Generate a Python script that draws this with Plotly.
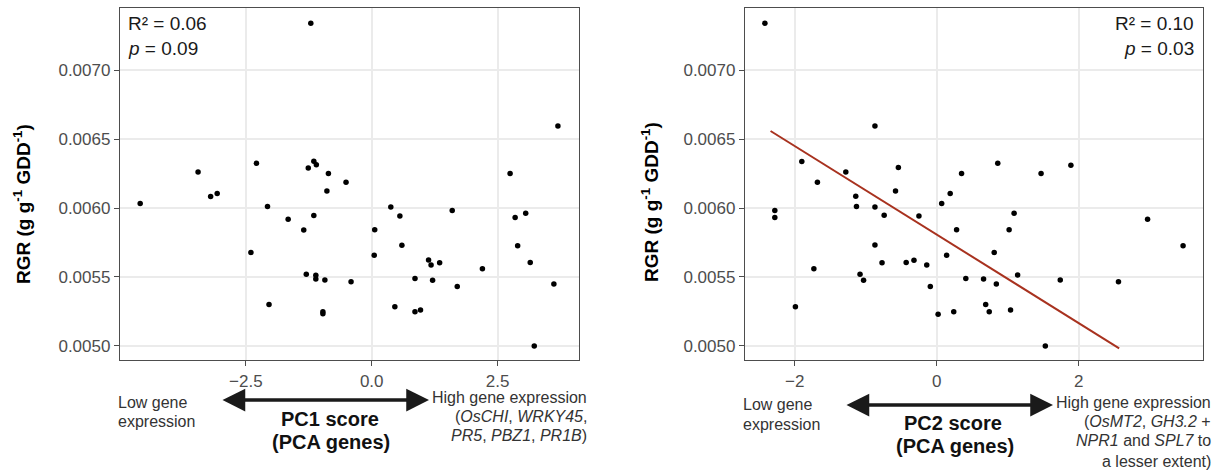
import plotly.graph_objects as go

# ---------------- data ----------------
pc1 = [-1.21, -4.60, -3.45, -3.20, -3.07, -2.29, -2.07, -2.40, -2.04, -1.66,
       -1.35, -1.26, -1.15, -1.10, -0.86, -0.89, -0.51, -1.15, -1.30, -1.11,
       -1.11, -0.93, -0.41, -0.97, -0.97, 0.38, 0.56, 0.06, 0.05, 0.46,
       0.60, 1.60, 1.13, 1.18, 1.35, 0.86, 1.21, 1.70, 2.20, 0.86,
       0.97, 3.70, 2.75, 2.85, 3.06, 2.90, 3.15, 3.62, 3.23]
rgr_pc1 = [0.007344, 0.006033, 0.006263, 0.006084, 0.006106, 0.006326, 0.006012, 0.005678, 0.005300, 0.005919,
           0.005840, 0.006292, 0.006340, 0.006314, 0.006251, 0.006125, 0.006188, 0.005946, 0.005520, 0.005511,
           0.005484, 0.005477, 0.005464, 0.005247, 0.005232, 0.006007, 0.005943, 0.005842, 0.005658, 0.005283,
           0.005729, 0.005983, 0.005622, 0.005586, 0.005602, 0.005489, 0.005475, 0.005431, 0.005559, 0.005247,
           0.005259, 0.006597, 0.006251, 0.005932, 0.005963, 0.005726, 0.005605, 0.005448, 0.004998]

pc2 = [-2.42, -2.28, -2.28, -1.99, -1.90, -1.68, -1.73, -1.28, -1.14, -1.13,
       -1.08, -1.03, -0.87, -0.87, -0.87, -0.74, -0.77, -0.54, -0.58, -0.43,
       -0.32, -0.25, -0.14, -0.09, 0.02, 0.07, 0.19, 0.14, 0.28, 0.24,
       0.35, 0.41, 0.66, 0.69, 0.74, 0.86, 1.47, 1.89, 1.09, 1.02,
       0.81, 0.84, 1.14, 1.74, 1.04, 1.53, 2.97, 3.47, 2.56]
rgr_pc2 = [0.007344, 0.005983, 0.005932, 0.005283, 0.006338, 0.006188, 0.005559, 0.006263, 0.006086, 0.006012,
           0.005520, 0.005475, 0.006597, 0.006007, 0.005731, 0.005948, 0.005602, 0.006295, 0.006125, 0.005605,
           0.005620, 0.005943, 0.005586, 0.005431, 0.005228, 0.006033, 0.006106, 0.005658, 0.005842, 0.005247,
           0.006251, 0.005489, 0.005484, 0.005300, 0.005247, 0.006326, 0.006251, 0.006311, 0.005963, 0.005842,
           0.005678, 0.005448, 0.005513, 0.005477, 0.005259, 0.004998, 0.005919, 0.005726, 0.005464]

# fitted line (PC2 panel)
fit_pc2 = [-2.34, 2.57]
fit_rgr = [0.006560, 0.004981]

pc1_ticks = [-2.5, 0.0, 2.5]
pc1_tick_labels = ["\u22122.5", "0.0", "2.5"]
pc2_ticks = [-2, 0, 2]
pc2_tick_labels = ["\u22122", "0", "2"]
rgr_ticks = [0.0050, 0.0055, 0.0060, 0.0065, 0.0070]
rgr_tick_labels = ["0.0050", "0.0055", "0.0060", "0.0065", "0.0070"]

stats_pc1 = ["R\u00b2 = 0.06", "<i>p</i> = 0.09"]
stats_pc2 = ["R\u00b2 = 0.10", "<i>p</i> = 0.03"]

# ---------------- layout helpers ----------------
W, H = 1223, 470
T, B = 8, 360          # plot area top/bottom in px
FONT = "Liberation Sans, Arial, sans-serif"


def px(x):
    return x / W


def py(y):
    return (B - y) / (B - T)


fig = go.Figure()

fig.add_trace(go.Scatter(x=pc1, y=rgr_pc1, mode="markers",
                         marker=dict(color="black", size=5.5),
                         xaxis="x", yaxis="y", showlegend=False))
fig.add_trace(go.Scatter(x=pc2, y=rgr_pc2, mode="markers",
                         marker=dict(color="black", size=5.5),
                         xaxis="x2", yaxis="y2", showlegend=False))
fig.add_trace(go.Scatter(x=fit_pc2, y=fit_rgr, mode="lines",
                         line=dict(color="#A8321F", width=2),
                         xaxis="x2", yaxis="y2", showlegend=False))

axis_common = dict(showgrid=True, gridcolor="#EBEBEB", gridwidth=1.5,
                   zeroline=False, showline=True, mirror=True,
                   linecolor="#4d4d4d", linewidth=1.3,
                   ticks="outside", ticklen=5, tickcolor="#4d4d4d", tickwidth=1.3,
                   tickfont=dict(family=FONT, size=17, color="#4D4D4D"),
                   tickmode="array")

fig.update_layout(
    width=W, height=H,
    margin=dict(l=0, r=0, t=T, b=H - B),
    paper_bgcolor="white", plot_bgcolor="white",
    font=dict(family=FONT),
    xaxis=dict(domain=[120 / W, 579 / W], range=[-5.001, 4.119],
               tickvals=pc1_ticks, ticktext=pc1_tick_labels, anchor="y", **axis_common),
    yaxis=dict(domain=[0, 1], range=[0.004896, 0.007454],
               tickvals=rgr_ticks, ticktext=rgr_tick_labels, anchor="x", **axis_common),
    xaxis2=dict(domain=[745 / W, 1203.3 / W], range=[-2.70, 3.755],
                tickvals=pc2_ticks, ticktext=pc2_tick_labels, anchor="y2", **axis_common),
    yaxis2=dict(domain=[0, 1], range=[0.004896, 0.007454],
                tickvals=rgr_ticks, ticktext=rgr_tick_labels, anchor="x2", **axis_common),
)

ann = []


def text(x, y, s, size=16, color="#222222", xanchor="left", angle=0):
    ann.append(dict(x=px(x), y=py(y), xref="paper", yref="paper", text=s,
                    showarrow=False, xanchor=xanchor, yanchor="middle",
                    textangle=angle,
                    font=dict(family=FONT, size=size, color=color)))


# y axis titles
ytitle = "<b>RGR (g g<sup>-1</sup> GDD<sup>-1</sup>)</b>"
text(22, 204, ytitle, size=19, color="black", xanchor="center", angle=-90)
text(650, 202, ytitle, size=19, color="black", xanchor="center", angle=-90)

# stats
text(126, 24, stats_pc1[0], size=19, color="#1a1a1a")
text(126, 48, stats_pc1[1], size=19, color="#1a1a1a")
text(1196, 24, stats_pc2[0], size=19, color="#1a1a1a", xanchor="right")
text(1196, 48, stats_pc2[1], size=19, color="#1a1a1a", xanchor="right")

# bottom explanations, left panel
text(116, 402, "Low gene", color="#333333")
text(116, 421, "expression", color="#333333")
text(330, 419, "<b>PC1 score</b>", size=20, color="#111111", xanchor="center")
text(331, 442, "<b>(PCA genes)</b>", size=20, color="#111111", xanchor="center")
text(589, 397, "High gene expression", color="#333333", xanchor="right")
text(589, 416, "(<i>OsCHI</i>, <i>WRKY45</i>,", color="#333333", xanchor="right")
text(589, 435, "<i>PR5</i>, <i>PBZ1</i>, <i>PR1B</i>)", color="#333333", xanchor="right")

# bottom explanations, right panel
text(741, 404, "Low gene", color="#333333")
text(741, 424, "expression", color="#333333")
text(953, 423, "<b>PC2 score</b>", size=20, color="#111111", xanchor="center")
text(955, 446, "<b>(PCA genes)</b>", size=20, color="#111111", xanchor="center")
text(1213, 402, "High gene expression", color="#333333", xanchor="right")
text(1213, 421, "(<i>OsMT2</i>, <i>GH3.2</i> +", color="#333333", xanchor="right")
text(1213, 441, "<i>NPR1</i> and <i>SPL7</i> to", color="#333333", xanchor="right")
text(1213, 461, "a lesser extent)", color="#333333", xanchor="right")


def arrow(x0, x1, y):
    ann.append(dict(x=px(x1), y=py(y), xref="paper", yref="paper",
                    ax=-(x1 - x0), ay=0, axref="pixel", ayref="pixel",
                    showarrow=True, arrowhead=2, arrowside="end+start",
                    arrowsize=1.3, arrowwidth=3.5, arrowcolor="#1a1a1a",
                    standoff=0, startstandoff=0, text=""))


arrow(221, 429, 400)
arrow(845, 1053, 405)

fig.update_layout(annotations=ann)

# remove the browser's default page margin so the figure sits at (0, 0)
fig.write_html("out.html",
               config={"displayModeBar": False},
               post_script="document.body.style.margin='0';document.body.style.overflow='hidden';")
